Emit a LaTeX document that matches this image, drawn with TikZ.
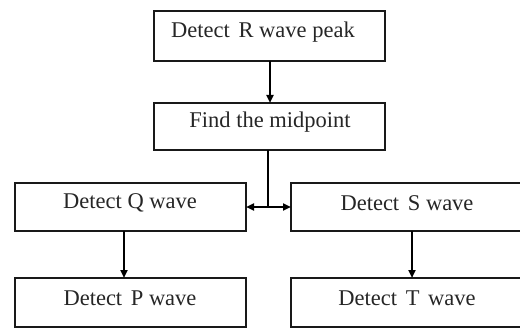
\documentclass[tikz,border=0pt]{standalone}
\usepackage{fontspec}
\setmainfont{Liberation Serif}
\usetikzlibrary{arrows.meta}
\begin{document}
\begin{tikzpicture}[x=1pt,y=-1pt,
  box/.style={draw=black!90,line width=2.8pt,inner sep=0pt},
  lbl/.style={font=\fontsize{22.5}{26}\selectfont,text=black!85},
  conn/.style={line width=2pt,-{Triangle[length=8pt,width=7pt]}},
  seg/.style={line width=2pt}]
\useasboundingbox (0,0) rectangle (520,329);
\draw[box] (154,11) rectangle (385,61);
\node[lbl] (r) at (263,32) {Detect\hspace{3pt} R wave peak};
\coordinate (rb) at (270,61);
\draw[box] (154,103) rectangle (385,150);
\node[lbl] (m) at (270,122) {Find the midpoint};
\coordinate (mt) at (270,103);
\coordinate (mb) at (268,150);
\coordinate (j) at (268,207);
\draw[box] (15,183) rectangle (246,231);
\node[lbl] (q) at (130,203) {Detect Q wave};
\coordinate (qr) at (246,207);
\coordinate (qb) at (124,231);
\draw[box] (291,183) rectangle (524,231);
\node[lbl] (s) at (407,203) {Detect\hspace{3pt} S wave};
\coordinate (sl) at (291,207);
\coordinate (sb) at (412,231);
\draw[box] (15,278) rectangle (246,327);
\node[lbl] (p) at (130,298) {Detect\hspace{3pt} P wave};
\coordinate (pt) at (124,278);
\draw[box] (291,278) rectangle (524,327);
\node[lbl] (t) at (407,298) {Detect\hspace{3pt} T\hspace{3pt} wave};
\coordinate (tt) at (412,278);
\draw[conn] (rb) -- (mt);
\draw[seg] (mb) -- (j);
\draw[conn] (j) -- (qr);
\draw[conn] (j) -- (sl);
\draw[conn] (qb) -- (pt);
\draw[conn] (sb) -- (tt);
\end{tikzpicture}
\end{document}
